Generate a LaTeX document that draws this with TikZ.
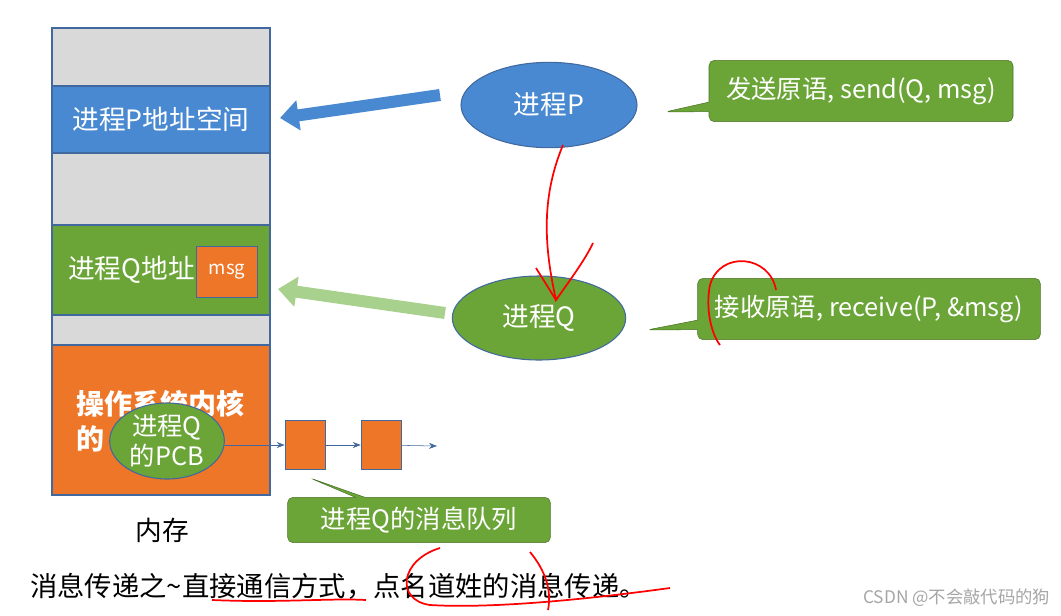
\documentclass[tikz,border=0pt]{standalone}
\usepackage{fontspec}
\setmainfont{Noto Sans CJK SC}
\usetikzlibrary{arrows.meta,shapes.callouts,shapes.geometric}
\definecolor{gr}{RGB}{217,217,217}
\definecolor{bl}{RGB}{73,137,209}
\definecolor{gn}{RGB}{107,165,56}
\definecolor{og}{RGB}{237,118,40}
\definecolor{ln}{RGB}{65,105,160}
\definecolor{lg}{RGB}{169,209,142}
\begin{document}
\begin{tikzpicture}[x=0.75pt,y=-0.75pt,
 mem/.style={draw=ln,line width=0.8pt},
 txt/.style={text=white,font=\fontsize{20}{24}\selectfont},
 ell/.style={ellipse,draw=ln,line width=0.8pt,txt},
 call/.style={rectangle callout,rounded corners=4pt,fill=gn,draw=gn!70!black,text=white,font=\fontsize{19}{22}\selectfont,inner xsep=10pt},
 ink/.style={draw=red,line width=1.3pt}]
\useasboundingbox (0,0) rectangle (1061,615);
\fill[white] (0,0) rectangle (1061,615);
\draw[mem,fill=gr] (52,28) rectangle (270,86);
\draw[mem,fill=bl] (52,86) rectangle node[txt] (pa) {进程P地址空间} (270,153);
\draw[mem,fill=gr] (52,153) rectangle (270,225);
\draw[mem,fill=gn] (52,225) rectangle (270,315);
\node[txt,anchor=west,inner sep=0pt] (qa) at (68,270) {进程Q地址};
\node[draw=ln,fill=og,minimum width=46pt,minimum height=38pt,text=white,font=\fontsize{14}{16}\selectfont] (msg) at (227,272) {msg};
\draw[mem,fill=gr] (52,315) rectangle (270,345);
\draw[mem,fill=og] (52,345) rectangle (270,495);
\node[text=white,font=\bfseries\fontsize{21}{26}\selectfont,align=left,anchor=north west,inner sep=0pt] (os) at (76,390) {操作系统内核\\的};
\node[ell,fill=gn,minimum width=86pt,minimum height=57pt,align=center,inner sep=0pt,font=\fontsize{19}{22}\selectfont] (pcb) at (167,441) {进程Q\\的PCB};
\node[draw=ln,fill=og,minimum width=30pt,minimum height=37pt] (b1) at (305,445) {};
\node[draw=ln,fill=og,minimum width=30pt,minimum height=37pt] (b2) at (381,445) {};
\coordinate (qe) at (437,446);
\draw[-{Stealth[length=6pt]},ln] (pcb.east|-b1) -- (b1);
\draw[-{Stealth[length=6pt]},ln] (b1) -- (b2);
\draw[-{Stealth[length=6pt]},ln] (b2) -- (qe);
\node[call,callout absolute pointer={(310,478)},minimum width=197pt,minimum height=34pt] (ql) at (419,520) {进程Q的消息队列};
\node[font=\fontsize{20}{24}\selectfont] (mem) at (162,530) {内存};
\node[ell,fill=bl,minimum width=132pt,minimum height=64pt] (P) at (549,105) {进程P};
\node[ell,fill=gn,minimum width=130pt,minimum height=63pt] (Q) at (539,318) {进程Q};
\coordinate (pt) at (440,95);
\coordinate (ph) at (280,118);
\draw[-{Triangle[length=14pt,width=22pt]},line width=9pt,bl] (pt) -- (ph);
\coordinate (qt) at (445,313);
\coordinate (qh) at (278,289);
\draw[-{Triangle[length=14pt,width=22pt]},line width=9pt,lg] (qt) -- (qh);
\node[call,callout absolute pointer={(665,112)},minimum width=228pt,minimum height=46pt] (s) at (861,91) {发送原语, send(Q, msg)};
\node[call,callout absolute pointer={(647,330)},minimum width=257pt,minimum height=46pt] (r) at (869,309) {接收原语, receive(P, \&msg)};
\node[anchor=west,font=\fontsize{20.5}{24}\selectfont,inner sep=0pt] (bt) at (30,586) {消息传递之\textasciitilde 直接通信方式，点名道姓的消息传递。};
\node[anchor=east,text=gray!70,font=\fontsize{13}{15}\selectfont] (wm) at (1055,598) {CSDN @不会敲代码的狗};
\draw[ink] (563,145) .. controls (540,200) and (545,250) .. (556,300) .. controls (570,280) and (585,260) .. (593,243);
\draw[ink] (536,268) -- (556,300);
\draw[ink] (776,290) .. controls (770,255) and (720,250) .. (710,285) .. controls (705,310) and (712,335) .. (720,345);
\draw[ink] (212,600) .. controls (280,603) and (330,598) .. (366,600);
\draw[ink] (440,548) .. controls (400,560) and (395,600) .. (430,605) .. controls (480,608) and (560,603) .. (670,588);
\draw[ink] (530,552) .. controls (545,570) and (552,590) .. (548,610);
\end{tikzpicture}
\end{document}
